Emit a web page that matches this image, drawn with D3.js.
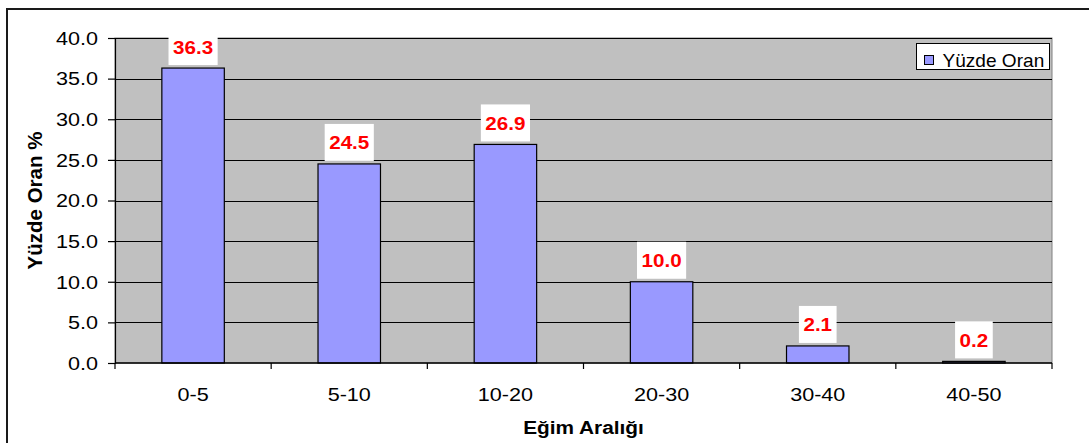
<!DOCTYPE html>
<html>
<head>
<meta charset="utf-8">
<script src="https://cdn.jsdelivr.net/npm/d3@7"></script>
<style>
  html, body { margin: 0; padding: 0; background: #fff; }
  svg { display: block; font-family: "Liberation Sans", Arial, sans-serif; }
</style>
</head>
<body>
<svg id="chart" width="1089" height="443"></svg>
<script>
// Slope classes and their share of the area (%)
const categories = ["0-5", "5-10", "10-20", "20-30", "30-40", "40-50"];
const values = [36.3, 24.5, 26.9, 10.0, 2.1, 0.2];
const yTicks = [0, 5, 10, 15, 20, 25, 30, 35, 40];
const seriesName = "Yüzde Oran";
const xTitle = "Eğim Aralığı";
const yTitle = "Yüzde Oran %";

const svg = d3.select("#chart");
const plot = { left: 115, right: 1052, top: 38, bottom: 363 };

const x = d3.scaleBand()
  .domain(categories)
  .range([plot.left, plot.right])
  .paddingInner(0.6)
  .paddingOuter(0.3);

const y = d3.scaleLinear()
  .domain([0, 40])
  .range([plot.bottom, plot.top]);

// Draws text at (px, py) stretched horizontally by sx
function stretchedText(parent, px, py, str, sx, opts) {
  const g = parent.append("g").attr("transform", `translate(${px},${py}) scale(${sx},1)`);
  const t = g.append("text")
    .attr("x", 0).attr("y", 0)
    .attr("text-anchor", opts.anchor || "start")
    .attr("font-size", opts.size || 18)
    .attr("font-weight", opts.weight || "normal")
    .attr("fill", opts.fill || "#000")
    .text(str);
  return { g, t };
}

// Outer chart frame
svg.append("rect")
  .attr("x", 7).attr("y", 9)
  .attr("width", 1120).attr("height", 480)
  .attr("fill", "#fff")
  .attr("stroke", "#1a1a1a")
  .attr("stroke-width", 2);

// Plot background
svg.append("rect")
  .attr("x", plot.left).attr("y", plot.top)
  .attr("width", plot.right - plot.left).attr("height", plot.bottom - plot.top)
  .attr("fill", "#c0c0c0")
  .attr("stroke", "#808080")
  .attr("stroke-width", 1);

// Horizontal gridlines
svg.append("g")
  .selectAll("line")
  .data(yTicks.filter(d => d > 0))
  .join("line")
  .attr("x1", plot.left).attr("x2", plot.right)
  .attr("y1", d => Math.round(y(d)) + 0.5).attr("y2", d => Math.round(y(d)) + 0.5)
  .attr("stroke", "#000")
  .attr("stroke-width", 1);

// Bars
svg.append("g")
  .selectAll("rect")
  .data(values)
  .join("rect")
  .attr("x", (d, i) => x(categories[i]))
  .attr("y", d => y(d))
  .attr("width", x.bandwidth())
  .attr("height", d => plot.bottom - y(d))
  .attr("fill", "#9999ff")
  .attr("stroke", "#000")
  .attr("stroke-width", 1.2);

// Y axis
const yAxis = d3.axisLeft(y)
  .tickValues(yTicks)
  .tickSize(7)
  .tickFormat(() => "");
const yAxisG = svg.append("g")
  .attr("transform", `translate(${plot.left},0)`)
  .call(yAxis);
yAxisG.selectAll("path, line").attr("stroke", "#000").attr("stroke-width", 1.2);

const yLabels = svg.append("g");
yTicks.forEach(v => {
  stretchedText(yLabels, 98, y(v) + 6.8, d3.format(".1f")(v), 1.2, { anchor: "end", size: 18 });
});

// X axis: ticks at category boundaries
const xAxisG = svg.append("g");
xAxisG.append("line")
  .attr("x1", plot.left).attr("x2", plot.right)
  .attr("y1", plot.bottom).attr("y2", plot.bottom)
  .attr("stroke", "#000").attr("stroke-width", 1.4);
const boundaries = categories.map(c => x(c) - x.step() * x.paddingOuter())
  .concat([plot.right]);
xAxisG.selectAll("line.tick")
  .data(boundaries)
  .join("line")
  .attr("class", "tick")
  .attr("x1", d => d).attr("x2", d => d)
  .attr("y1", plot.bottom).attr("y2", plot.bottom + 6)
  .attr("stroke", "#000").attr("stroke-width", 1.2);
categories.forEach(c => {
  stretchedText(xAxisG, x(c) + x.bandwidth() / 2, 401, c, 1.2, { anchor: "middle", size: 18 });
});

// Value labels on white boxes
const labels = svg.append("g");
values.forEach((v, i) => {
  const cx = x(categories[i]) + x.bandwidth() / 2;
  const base = y(v) - 14.5;
  const sx = 1.11;
  const box = labels.append("rect").attr("fill", "#fff");
  const { t } = stretchedText(labels, cx, base, d3.format(".1f")(v), sx,
    { anchor: "middle", size: 18.6, weight: "bold", fill: "#ff0000" });
  const w = t.node().getComputedTextLength() * sx + 9;
  box.attr("x", cx - w / 2).attr("y", base - 25.5)
    .attr("width", w).attr("height", 37);
});

// Axis titles
stretchedText(svg, (plot.left + plot.right) / 2, 433.5, xTitle, 1.12,
  { anchor: "middle", size: 18.6, weight: "bold" });

svg.append("text")
  .attr("transform", `translate(41.5,${(plot.top + plot.bottom) / 2}) rotate(-90)`)
  .attr("text-anchor", "middle")
  .attr("font-size", 20.5)
  .attr("font-weight", "bold")
  .text(yTitle);

// Legend
const legend = svg.append("g");
legend.append("rect")
  .attr("x", 916.5).attr("y", 43.5)
  .attr("width", 133).attr("height", 26)
  .attr("fill", "#fff")
  .attr("stroke", "#000")
  .attr("stroke-width", 1);
legend.append("rect")
  .attr("x", 924.5).attr("y", 55.5)
  .attr("width", 9).attr("height", 9)
  .attr("fill", "#9999ff")
  .attr("stroke", "#000")
  .attr("stroke-width", 1);
stretchedText(legend, 942.5, 66.7, seriesName, 1.06, { anchor: "start", size: 18 });
</script>
</body>
</html>
